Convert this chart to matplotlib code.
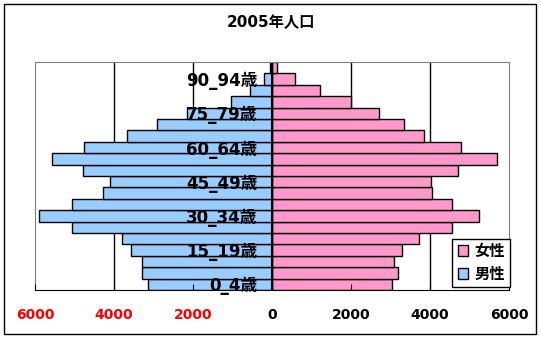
import numpy as np
import matplotlib.pyplot as plt
from matplotlib.patches import Rectangle

plt.rcParams['font.family'] = ['DejaVu Sans', 'Noto Sans CJK JP']
plt.rcParams['font.weight'] = 'bold'

# age groups 0_4 ... 95_99
ages = ["0_4", "5_9", "10_14", "15_19", "20_24", "25_29", "30_34", "35_39",
        "40_44", "45_49", "50_54", "55_59", "60_64", "65_69", "70_74", "75_79",
        "80_84", "85_89", "90_94", "95_99"]
male = [3150, 3300, 3300, 3560, 3810, 5060, 5890, 5060, 4290, 4090,
        4780, 5560, 4760, 3680, 2900, 2160, 1050, 560, 210, 45]
female = [3040, 3190, 3090, 3290, 3720, 4550, 5240, 4550, 4050, 4020,
          4720, 5690, 4780, 3860, 3340, 2720, 1990, 1220, 580, 125]
xticks = [-6000, -4000, -2000, 0, 2000, 4000, 6000]
labelled = [0, 3, 6, 9, 12, 15, 18]

pink = "#FF99CC"
blue = "#99CCFF"

fig = plt.figure(figsize=(5.41, 3.39), dpi=100)
ax = fig.add_axes([35/541, 49/339, 474/541, 228/339])
ax.set_axisbelow(False)

y = np.arange(len(ages))
ax.barh(y, female, height=1.0, color=pink, edgecolor="black", linewidth=1, label="女性", zorder=2)
ax.barh(y, -np.array(male), height=1.0, color=blue, edgecolor="black", linewidth=1, label="男性", zorder=2)

for g in [-4000, -2000, 2000, 4000]:
    ax.axvline(g, color="black", lw=1, zorder=1)
ax.axvline(0, color="black", lw=1.5, zorder=2.2)

ax.set_xlim(-6000, 6000)
ax.set_ylim(-0.5, len(ages) - 0.5)

ax.set_xticks(xticks)
ax.set_xticklabels([str(abs(v)) for v in xticks], fontsize=10, fontweight="bold")
for t, v in zip(ax.get_xticklabels(), xticks):
    t.set_color("red" if v < 0 else "black")
ax.tick_params(axis="x", direction="in", length=4, pad=13, color="black")

ax.set_yticks(labelled)
ax.set_yticklabels([ages[i] + "歳" for i in labelled], fontsize=12, fontweight="bold")
ax.tick_params(axis="y", length=0, pad=-160)

for s in ["left", "top", "right"]:
    ax.spines[s].set_color("#808080")
ax.spines["bottom"].set_color("black")

ax.set_title("2005年人口", fontsize=11, fontweight="bold", pad=25, x=0.497)

leg = ax.legend(loc="lower right", bbox_to_anchor=(1.003, 0.013), borderaxespad=0,
                fancybox=False, framealpha=1, edgecolor="black", fontsize=11,
                handlelength=0.7, handleheight=0.7, handletextpad=0.4,
                borderpad=0.35, labelspacing=0.5)
leg.get_frame().set_linewidth(1)
leg.set_zorder(5)

fig.patches.append(Rectangle((4/541, 5/339), 532/541, 330/339, transform=fig.transFigure,
                             fill=False, edgecolor="black", lw=1))

fig.savefig("out.png", dpi=100)
